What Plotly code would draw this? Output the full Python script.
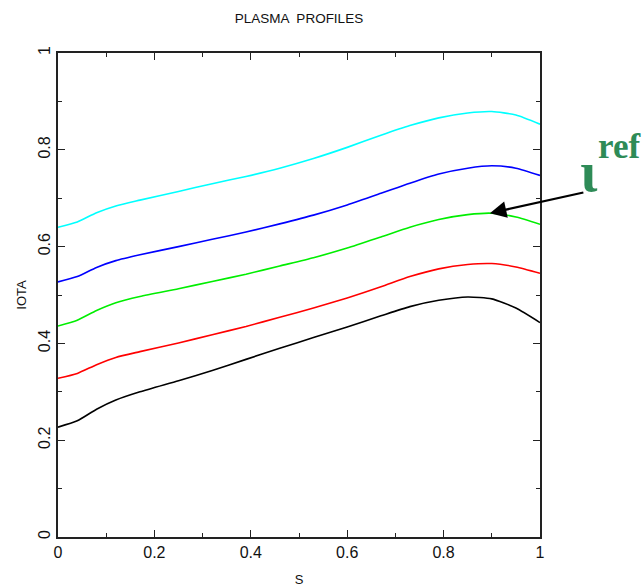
import plotly.graph_objects as go

# Normalised flux coordinate
s = [0.0, 0.04, 0.08, 0.12, 0.17, 0.25, 0.32, 0.39, 0.46, 0.53,
     0.60, 0.67, 0.73, 0.79, 0.85, 0.90, 0.95, 1.0]

# Rotational transform profiles
iota_black = [0.227, 0.240, 0.264, 0.283, 0.300, 0.323, 0.344, 0.367, 0.390, 0.412,
              0.434, 0.457, 0.476, 0.489, 0.496, 0.492, 0.473, 0.443]
iota_red = [0.328, 0.338, 0.356, 0.371, 0.383, 0.401, 0.418, 0.435, 0.454, 0.473,
            0.494, 0.517, 0.538, 0.554, 0.563, 0.565, 0.558, 0.545]
iota_green = [0.436, 0.448, 0.468, 0.484, 0.497, 0.513, 0.528, 0.543, 0.560, 0.577,
              0.597, 0.620, 0.640, 0.656, 0.666, 0.669, 0.661, 0.646]
iota_blue = [0.527, 0.538, 0.557, 0.571, 0.583, 0.600, 0.615, 0.630, 0.647, 0.665,
             0.686, 0.710, 0.731, 0.750, 0.762, 0.767, 0.762, 0.747]
iota_cyan = [0.640, 0.651, 0.670, 0.684, 0.696, 0.714, 0.730, 0.745, 0.762, 0.782,
             0.805, 0.830, 0.850, 0.866, 0.876, 0.879, 0.872, 0.853]

profiles = [
    (iota_black, "#000000"),
    (iota_red, "#ff0000"),
    (iota_green, "#00ee00"),
    (iota_blue, "#0000ff"),
    (iota_cyan, "#00ffff"),
]

# Point on the reference profile marked by the arrow
ref_s, ref_iota = 0.896, 0.669

x_ticks = [0, 0.2, 0.4, 0.6, 0.8, 1]
x_tick_text = ["0", "0.2", "0.4", "0.6", "0.8", "1"]
y_ticks = [0, 0.2, 0.4, 0.6, 0.8, 1]
y_tick_text = ["0", "0.2", "0.4", "0.6", "0.8", "1"]

W, H = 643, 587
ML, MR, MT, MB = 58, 103, 53, 50
pw, ph = W - ML - MR, H - MT - MB


def px_to_paper(px, py):
    return (px - ML) / pw, (H - MB - py) / ph


fig = go.Figure()
for vals, col in profiles:
    fig.add_trace(go.Scatter(x=s, y=vals, mode="lines",
                             line=dict(color=col, width=1.6, shape="spline", smoothing=0.6),
                             showlegend=False, hoverinfo="skip"))

axis_common = dict(
    showgrid=False, zeroline=False, showline=True, linecolor="#222222", linewidth=1.5,
    mirror="ticks", ticks="inside", ticklen=7, tickwidth=1.2, tickcolor="#222222",
    minor=dict(ticks="inside", ticklen=4, tickwidth=1.2, tickcolor="#222222", dtick=0.1),
    tickfont=dict(family="Liberation Sans, Arial, sans-serif", size=16, color="#111111"),
    automargin=False,
)

fig.update_xaxes(range=[0, 1], tickvals=x_ticks, ticktext=x_tick_text,
                 title=dict(text="S", font=dict(family="Liberation Sans, Arial", size=13, color="#111"),
                            standoff=22),
                 **axis_common)
fig.update_yaxes(range=[0, 1], tickvals=y_ticks, ticktext=y_tick_text, tickangle=-90,
                 title=dict(text="IOTA", font=dict(family="Liberation Sans, Arial", size=13, color="#111"),
                            standoff=6),
                 **axis_common)

# arrow pointing at the reference profile
fig.add_annotation(x=ref_s, y=ref_iota, xref="x", yref="y", text="",
                   showarrow=True, arrowhead=2, arrowsize=1.5, arrowwidth=2.2,
                   arrowcolor="#000000", ax=95, ay=-21)

# iota_ref label
ix, iy = px_to_paper(589, 172)
fig.add_annotation(x=ix, y=iy, xref="paper", yref="paper", text="<b>ι</b>",
                   showarrow=False, xanchor="center", yanchor="middle",
                   font=dict(family="Liberation Serif, Times New Roman, serif", size=56,
                             color="#2e8b57"))
rx, ry = px_to_paper(619, 146)
fig.add_annotation(x=rx, y=ry, xref="paper", yref="paper", text="<b>ref</b>",
                   showarrow=False, xanchor="center", yanchor="middle",
                   font=dict(family="Liberation Serif, Times New Roman, serif", size=35,
                             color="#2e8b57"))

fig.update_layout(
    width=W, height=H,
    margin=dict(l=ML, r=MR, t=MT, b=MB),
    paper_bgcolor="white", plot_bgcolor="white",
    title=dict(text="PLASMA  PROFILES", x=299 / W, xref="container", xanchor="center",
               y=1 - 18 / H, yref="container", yanchor="middle",
               font=dict(family="Liberation Sans, Arial, sans-serif", size=13.5, color="#111")),
)

fig.write_html("out.html")
